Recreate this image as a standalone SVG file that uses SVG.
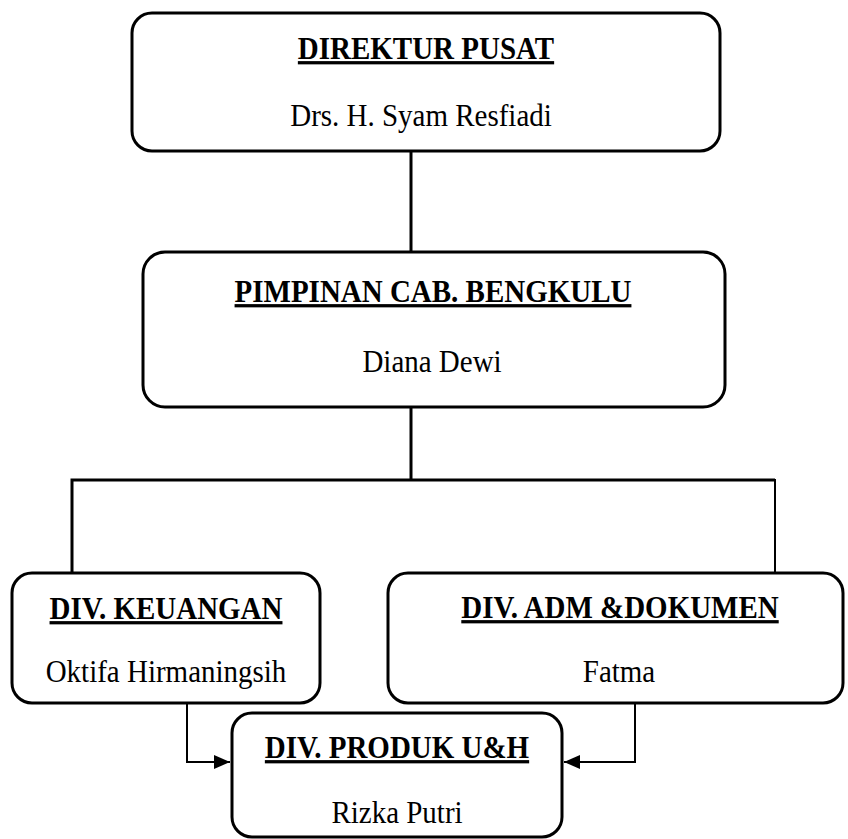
<svg xmlns="http://www.w3.org/2000/svg" width="848" height="839" viewBox="0 0 848 839">
<style>
.box{fill:#fff;stroke:#000;stroke-width:3}
.t{font-family:"Liberation Serif","Times New Roman",serif;font-size:29px;text-anchor:middle;fill:#000}
.h{font-weight:bold;text-decoration:underline}
.c{fill:none;stroke:#000;stroke-width:3}
.a{fill:none;stroke:#000;stroke-width:2}
</style>
<defs>
<marker id="arrow" viewBox="0 0 16 14" refX="16" refY="7" markerWidth="16" markerHeight="14" markerUnits="userSpaceOnUse" orient="auto">
<path d="M0,0 L16,7 L0,14 Z" fill="#000"/>
</marker>
</defs>
<rect width="848" height="839" fill="#fff"/>
<g id="connectors">
<line class="c" x1="411" y1="151" x2="411" y2="252"/>
<line class="c" x1="411" y1="407" x2="411" y2="480"/>
<polyline class="c" points="72,573 72,480 775,480"/>
<line class="a" x1="775" y1="479" x2="775" y2="573"/>
<polyline class="a" points="187,703 187,762 230,762" marker-end="url(#arrow)"/>
<polyline class="a" points="635,703 635,762 564,762" marker-end="url(#arrow)"/>
</g>
<g id="direktur">
<rect class="box" x="132" y="13" width="588" height="138" rx="20"/>
<text class="t h" transform="translate(426,59) scale(1,1.12)">DIREKTUR PUSAT</text>
<text class="t" transform="translate(421,126) scale(1,1.12)">Drs. H. Syam Resfiadi</text>
</g>
<g id="pimpinan">
<rect class="box" x="143" y="252" width="582" height="155" rx="22"/>
<text class="t h" transform="translate(433,302) scale(1,1.12)">PIMPINAN CAB. BENGKULU</text>
<text class="t" transform="translate(432,372) scale(1,1.12)">Diana Dewi</text>
</g>
<g id="keuangan">
<rect class="box" x="12" y="573" width="308" height="130" rx="20"/>
<text class="t h" transform="translate(166,619) scale(1,1.12)">DIV. KEUANGAN</text>
<text class="t" transform="translate(166,682) scale(1,1.12)">Oktifa Hirmaningsih</text>
</g>
<g id="adm">
<rect class="box" x="388" y="573" width="455" height="130" rx="20"/>
<text class="t h" transform="translate(620,618) scale(1,1.12)">DIV. ADM &amp;DOKUMEN</text>
<text class="t" transform="translate(619,682) scale(1,1.12)">Fatma</text>
</g>
<g id="produk">
<rect class="box" x="232" y="713" width="330" height="124" rx="20"/>
<text class="t h" transform="translate(397,758) scale(1,1.12)">DIV. PRODUK U&amp;H</text>
<text class="t" transform="translate(397,823) scale(1,1.12)">Rizka Putri</text>
</g>
</svg>
